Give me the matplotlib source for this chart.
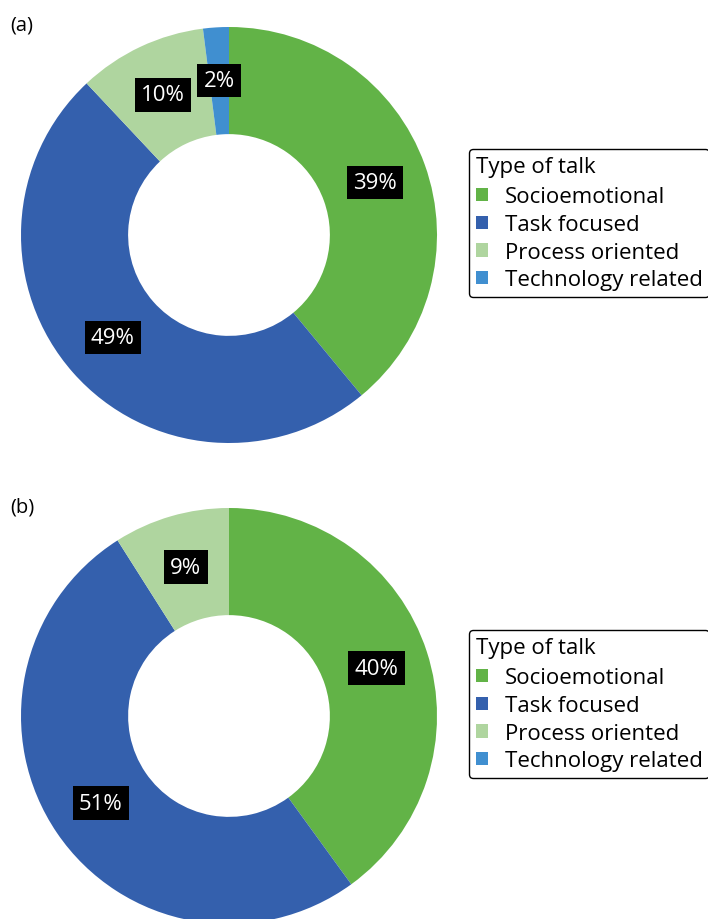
import matplotlib.pyplot as plt
from matplotlib.patches import Patch

# dados dos dois painéis
categorias = ["Socioemotional", "Task focused", "Process oriented", "Technology related"]
cores = ["#62b347", "#3460ad", "#afd59f", "#408fd0"]
valores_a = [39, 49, 10, 2]
valores_b = [40, 51, 9, 0]
rotulos_a = ["39%", "49%", "10%", "2%"]
rotulos_b = ["40%", "51%", "9%", ""]

plt.rcParams['font.family'] = ['Open Sans', 'DejaVu Sans']

W, H = 708, 920
fig = plt.figure(figsize=(W / 100, H / 100), dpi=100)


def desenha_rosca(cx, cy, valores, rotulos, painel, leg_top):
    r = 208
    ax = fig.add_axes([(cx - r) / W, (H - cy - r) / H, 2 * r / W, 2 * r / H])
    wedges, texts = ax.pie(valores, colors=cores, startangle=90, counterclock=False,
                           radius=1, labels=rotulos, labeldistance=0.745,
                           wedgeprops=dict(width=0.515, edgecolor='none'))
    for t in texts:
        t.set_ha('center')
        t.set_va('center')
        t.set_color('white')
        t.set_fontsize(16)
        if t.get_text():
            t.set_bbox(dict(facecolor='black', edgecolor='none', boxstyle='square,pad=0.28'))
    ax.set_xlim(-1, 1)
    ax.set_ylim(-1, 1)
    ax.set_aspect('equal')
    ax.axis('off')

    fig.text(10 / W, 1 - (cy - 210) / H, painel, fontsize=14.5, va='center', ha='left')

    handles = [Patch(facecolor=c, edgecolor='none') for c in cores]
    leg = fig.legend(handles, categorias, title="Type of talk",
                     loc='upper left', bbox_to_anchor=(469 / W, 1 - leg_top / H),
                     fontsize=16, title_fontsize=16, alignment='left',
                     handlelength=0.55, handleheight=0.55, handletextpad=0.75,
                     labelspacing=0.3, borderpad=0.3, borderaxespad=0,
                     frameon=True, fancybox=True, framealpha=1)
    leg._legend_box.sep = 7
    leg.get_frame().set_edgecolor('black')
    leg.get_frame().set_linewidth(1.0)


desenha_rosca(229, 236, valores_a, rotulos_a, "(a)", 150)
desenha_rosca(229, 717, valores_b, rotulos_b, "(b)", 631)

fig.savefig("out.png", dpi=100)
